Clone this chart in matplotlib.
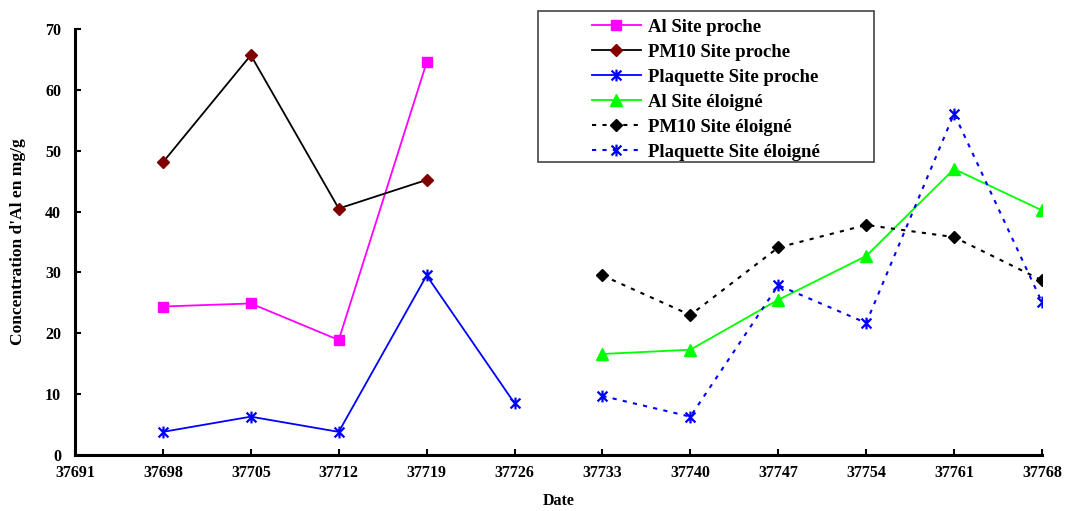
import matplotlib
matplotlib.use('Agg')
import matplotlib.pyplot as plt
from matplotlib.path import Path
from matplotlib.patches import Rectangle

plt.rcParams['font.family'] = ['Liberation Serif', 'DejaVu Serif']
plt.rcParams['font.weight'] = 'bold'

# dates (numeros de serie Excel)
dates_proche = [37698, 37705, 37712, 37719]
dates_plaq_proche = [37698, 37705, 37712, 37719, 37726]
dates_eloigne = [37733, 37740, 37747, 37754, 37761, 37768]

al_proche = [24.4, 24.9, 18.9, 64.5]
pm10_proche = [48.1, 65.7, 40.5, 45.2]
plaq_proche = [3.8, 6.3, 3.8, 29.5, 8.5]
al_eloigne = [16.6, 17.3, 25.5, 32.7, 47.0, 40.2]
pm10_eloigne = [29.5, 23.0, 34.1, 37.8, 35.8, 28.7]
plaq_eloigne = [9.7, 6.3, 27.9, 21.7, 56.1, 25.1]

xticks = list(range(37691, 37769, 7))
yticks = list(range(0, 71, 10))

# marqueur etoile type Excel (x + barre verticale)
star = Path([(-1, -1), (1, 1), (-1, 1), (1, -1), (0, -1.2), (0, 1.2)],
            [Path.MOVETO, Path.LINETO, Path.MOVETO, Path.LINETO, Path.MOVETO, Path.LINETO])

fig = plt.figure(figsize=(10.67, 5.11), dpi=100)
ax = fig.add_axes([75 / 1067, 1 - 455 / 511, (1042 - 75) / 1067, (455 - 29) / 511])

dots = (0, (2, 3))
ax.plot(dates_proche, al_proche, color='#FF00FF', lw=1.3, marker='s', ms=7,
        label='Al Site proche')
ax.plot(dates_proche, pm10_proche, color='black', lw=1.3, marker='D', ms=6,
        mfc='#800000', mec='#800000', label='PM10 Site proche')
ax.plot(dates_plaq_proche, plaq_proche, color='#0000FF', lw=1.3, marker=star, ms=8.5,
        mew=1.6, mfc='none', label='Plaquette Site proche')
ax.plot(dates_eloigne, al_eloigne, color='#00FF00', lw=1.3, marker='^', ms=8.5,
        label='Al Site éloigné')
ax.plot(dates_eloigne, pm10_eloigne, color='black', lw=1.5, ls=dots, marker='D', ms=6,
        label='PM10 Site éloigné')
ax.plot(dates_eloigne, plaq_eloigne, color='#0000FF', lw=1.5, ls=dots, marker=star, ms=8.5,
        mew=1.6, mfc='none', label='Plaquette Site éloigné')

ax.set_xlim(37691, 37768)
ax.set_ylim(0, 70)
ax.set_xticks(xticks)
ax.set_yticks(yticks)
ax.tick_params(direction='in', length=4, width=1.5, labelsize=11.5, pad=7)
ax.tick_params(axis='y', pad=10)
for side in ['top', 'right']:
    ax.spines[side].set_visible(False)
for side in ['left', 'bottom']:
    ax.spines[side].set_linewidth(2.2)

ax.set_xlabel('Date', fontsize=11.5, fontweight='bold', labelpad=9)
ax.set_ylabel("Concentration d'Al en mg/g", fontsize=12.5, fontweight='bold', labelpad=14)

# cadre de la legende
fig.patches.append(Rectangle((538 / 1067, 1 - 162 / 511), 336 / 1067, 151 / 511,
                             transform=fig.transFigure, fill=False,
                             edgecolor='#444444', lw=1.2))
leg = fig.legend(loc='center', bbox_to_anchor=(706 / 1067, 1 - 90 / 511),
                 frameon=False, fontsize=13.5, handlelength=2.6, handletextpad=0.4,
                 labelspacing=0.42)
for t in leg.get_texts():
    t.set_fontweight('bold')

fig.savefig('out.png', dpi=100)
